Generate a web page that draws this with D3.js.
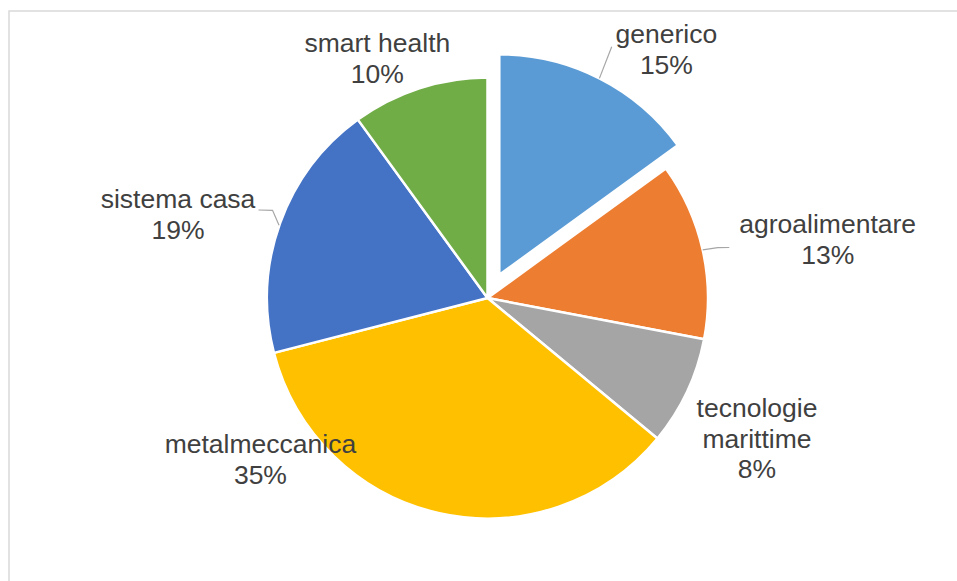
<!DOCTYPE html>
<html>
<head>
<meta charset="utf-8">
<script src="https://cdn.jsdelivr.net/npm/d3@7"></script>
<style>
  html, body { margin: 0; padding: 0; background: #fff; }
  svg { display: block; }
</style>
</head>
<body>
<svg id="chart" width="957" height="581"></svg>
<script>
// ---- data ----
const categories = ["generico", "agroalimentare", "tecnologie marittime", "metalmeccanica", "sistema casa", "smart health"];
const values = [15, 13, 8, 35, 19, 10];
const labelLines = [["generico"], ["agroalimentare"], ["tecnologie", "marittime"], ["metalmeccanica"], ["sistema casa"], ["smart health"]];
const colors = ["#5B9BD5", "#ED7D31", "#A5A5A5", "#FFC000", "#4472C4", "#70AD47"];

// ---- layout ----
const W = 957, H = 581;
const cx = 487.5, cy = 298, r = 220.5;
const explode = { "generico": 26 };
// label offsets (center x, first baseline) relative to slice outer mid-point
const labelOffset = {
  "generico": [67, -35],
  "agroalimentare": [125, -17],
  "tecnologie marittime": [70, 25],
  "metalmeccanica": [-179, -60],
  "sistema casa": [-102, -15],
  "smart health": [-42, -36]
};
const leaders = {
  "generico": [[0, 0], [12.3, -31.6]],
  "agroalimentare": [[0, 0], [15, -2.2], [26.6, -2.4]],
  "sistema casa": [[-1, 2], [-7.5, -13], [-21.5, -13.3]]
};
const fontSize = 26.5, lineH = 30.8;

const svg = d3.select("#chart");

// chart area frame
svg.append("rect")
  .attr("x", 9).attr("y", 11)
  .attr("width", 1000).attr("height", 1000)
  .attr("fill", "#fff")
  .attr("stroke", "#d9d9d9").attr("stroke-width", 1.5);

const data = categories.map((c, i) => ({ name: c, value: values[i], lines: labelLines[i], color: colors[i] }));
const total = d3.sum(values);
const pct = d3.format(".0%");

const pie = d3.pie().value(d => d.value).sort(null);
const arcs = pie(data);
const arc = d3.arc().innerRadius(0).outerRadius(r);

const g = svg.append("g").attr("transform", `translate(${cx},${cy})`);

function offsetFor(d) {
  const e = explode[d.data.name] || 0;
  const a = (d.startAngle + d.endAngle) / 2;
  return [e * Math.sin(a), -e * Math.cos(a)];
}
function outerPoint(d) {
  const a = (d.startAngle + d.endAngle) / 2;
  const o = offsetFor(d);
  return [o[0] + r * Math.sin(a), o[1] - r * Math.cos(a)];
}

g.selectAll("path.slice")
  .data(arcs)
  .join("path")
  .attr("class", "slice")
  .attr("transform", d => { const o = offsetFor(d); return `translate(${o[0]},${o[1]})`; })
  .attr("d", arc)
  .attr("fill", d => d.data.color)
  .attr("stroke", "#fff")
  .attr("stroke-width", 2.5)
  .attr("stroke-linejoin", "round");

// leader lines
const line = d3.line();
arcs.forEach(d => {
  const L = leaders[d.data.name];
  if (!L) return;
  const p = outerPoint(d);
  g.append("path")
    .attr("d", line(L.map(q => [p[0] + q[0], p[1] + q[1]])))
    .attr("fill", "none")
    .attr("stroke", "#a6a6a6")
    .attr("stroke-width", 1.2);
});

// labels
arcs.forEach(d => {
  const p = outerPoint(d);
  const off = labelOffset[d.data.name];
  const x = p[0] + off[0], y = p[1] + off[1];
  const lines = d.data.lines.concat([pct(d.data.value / total)]);
  const t = g.append("text")
    .attr("x", x).attr("y", y)
    .attr("text-anchor", "middle")
    .attr("font-family", "Arial, 'Liberation Sans', sans-serif")
    .attr("font-size", fontSize)
    .attr("fill", "#404040");
  lines.forEach((s, i) => {
    t.append("tspan").attr("x", x).attr("y", y + i * lineH).text(s);
  });
});
</script>
</body>
</html>
